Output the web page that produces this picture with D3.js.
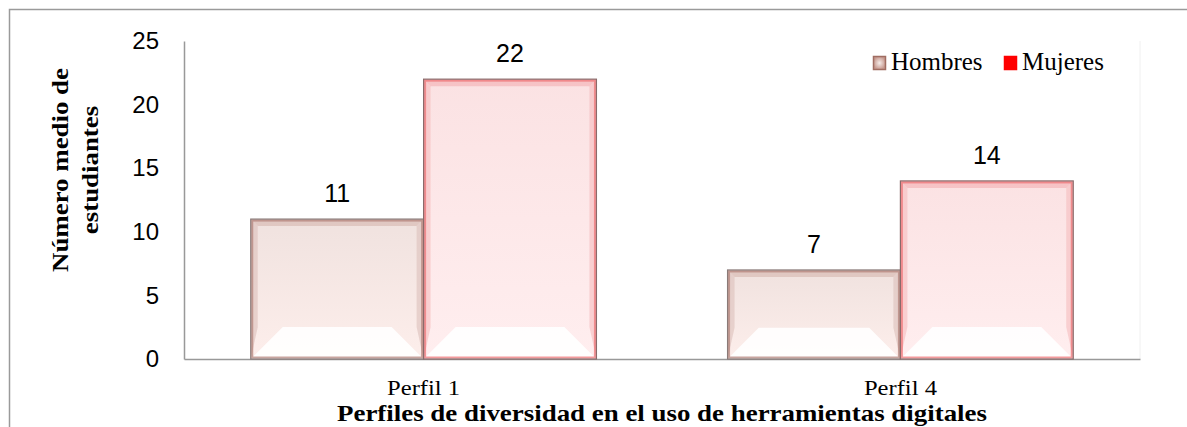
<!DOCTYPE html>
<html>
<head>
<meta charset="utf-8">
<script src="https://cdn.jsdelivr.net/npm/d3@7"></script>
<style>
  body { margin: 0; background: #fff; }
  svg { display: block; }
</style>
</head>
<body>
<div id="chart"></div>
<script>
const categories = ["Perfil 1", "Perfil 4"];
const seriesNames = ["Hombres", "Mujeres"];
const hombres = [11, 7];
const mujeres = [22, 14];
const yTicks = [0, 5, 10, 15, 20, 25];

const width = 1187, height = 427;
const margin = { left: 184, right: 1187 - 1140, top: 41, bottom: 427 - 359 };
const serif = "Liberation Serif, Times New Roman, serif";
const sans = "Liberation Sans, Arial, sans-serif";

const svg = d3.select("#chart").append("svg")
    .attr("width", width)
    .attr("height", height);

// outer frame
svg.append("path")
    .attr("d", "M9.5,427 V9.5 H1187")
    .attr("fill", "none")
    .attr("stroke", "#9a9a9a")
    .attr("stroke-width", 1.5);

const x = d3.scaleBand()
    .domain(categories)
    .range([margin.left, width - margin.right])
    .paddingInner(0.275)
    .paddingOuter(0.14);

const xs = d3.scaleBand()
    .domain(seriesNames)
    .range([0, x.bandwidth()]);

const y = d3.scaleLinear()
    .domain([0, 25])
    .range([height - margin.bottom, margin.top]);

const defs = svg.append("defs");
const styles = {
    Hombres: { base: "#f0e2df", edge: "#b07f76", dark: "#dcc0ba", line: "#8a7a78" },
    Mujeres: { base: "#fbe2e3", edge: "#ee6f72", dark: "#f5bcbe", line: "#8a6a6a" }
};
seriesNames.forEach(s => {
    const g = defs.append("linearGradient").attr("id", "g-" + s)
        .attr("x1", 0).attr("y1", 0).attr("x2", 0).attr("y2", 1);
    g.append("stop").attr("offset", 0).attr("stop-color", styles[s].base);
    g.append("stop").attr("offset", 1).attr("stop-color", d3.color(styles[s].base).brighter(0.15));
});
const lg = defs.append("radialGradient").attr("id", "legend-h");
lg.append("stop").attr("offset", 0).attr("stop-color", "#f6ece9");
lg.append("stop").attr("offset", 1).attr("stop-color", "#c79a90");

// faint right edge of plot area
svg.append("line")
    .attr("x1", width - margin.right).attr("x2", width - margin.right)
    .attr("y1", margin.top).attr("y2", y(0))
    .attr("stroke", "#f0f0f0");

// y axis
const yAxis = svg.append("g")
    .attr("transform", `translate(${margin.left},0)`)
    .call(d3.axisLeft(y).tickValues(yTicks).tickSize(0).tickPadding(25));
yAxis.select(".domain").attr("stroke", "#999").attr("stroke-width", 1.5);
yAxis.selectAll("text")
    .attr("font-family", sans)
    .attr("font-size", 24)
    .attr("fill", "#000");

// x axis
const xAxis = svg.append("g")
    .attr("transform", `translate(0,${y(0)})`)
    .call(d3.axisBottom(x).tickSize(0).tickPadding(0));
xAxis.select(".domain").attr("stroke", "#999").attr("stroke-width", 1.5);
xAxis.selectAll(".tick text")
    .attr("dy", null)
    .attr("y", 0)
    .attr("transform", "translate(0,36) scale(1.2,1)")
    .attr("font-family", serif)
    .attr("font-size", 20.5)
    .attr("fill", "#000");

const rows = [];
categories.forEach((c, i) => {
    rows.push({ cat: c, s: "Hombres", v: hombres[i] });
    rows.push({ cat: c, s: "Mujeres", v: mujeres[i] });
});

const bars = svg.append("g").selectAll("g")
    .data(rows)
    .join("g")
    .attr("transform", d => `translate(${x(d.cat) + xs(d.s)},${y(d.v)})`);

bars.each(function(d) {
    const g = d3.select(this);
    const w = xs.bandwidth(), h = y(0) - y(d.v);
    const st = styles[d.s];
    const b = 7, bb = Math.min(32, h * 0.35);
    g.append("rect").attr("width", w).attr("height", h)
        .attr("fill", `url(#g-${d.s})`);
    // top bevel
    g.append("path").attr("d", `M0,0 H${w} L${w - b},${b} H${b} Z`)
        .attr("fill", st.dark).attr("opacity", 0.8);
    // side bevels
    g.append("path").attr("d", `M0,0 L${b},${b} V${h - bb} L0,${h} Z`)
        .attr("fill", st.dark).attr("opacity", 0.6);
    g.append("path").attr("d", `M${w},0 L${w - b},${b} V${h - bb} L${w},${h} Z`)
        .attr("fill", st.dark).attr("opacity", 0.6);
    // bottom highlight
    g.append("path").attr("d", `M0,${h} L${bb},${h - bb} H${w - bb} L${w},${h} Z`)
        .attr("fill", "#ffffff").attr("opacity", 0.9);
    // coloured inner edge
    g.append("rect").attr("x", 1.5).attr("y", 1.5)
        .attr("width", w - 3).attr("height", h - 3)
        .attr("fill", "none").attr("stroke", st.edge).attr("stroke-width", 2).attr("opacity", 0.7);
    g.append("rect").attr("width", w).attr("height", h)
        .attr("fill", "none").attr("stroke", st.line).attr("stroke-width", 1.2);
});

// value labels
svg.append("g").selectAll("text")
    .data(rows)
    .join("text")
    .attr("x", d => x(d.cat) + xs(d.s) + xs.bandwidth() / 2)
    .attr("y", d => y(d.v) - 17)
    .attr("text-anchor", "middle")
    .attr("font-family", sans)
    .attr("font-size", 25)
    .text(d => d.v);

// y title
const yt = svg.append("text")
    .attr("transform", "translate(68,170) rotate(-90) scale(1.12,1)")
    .attr("text-anchor", "middle")
    .attr("font-family", serif)
    .attr("font-weight", "bold")
    .attr("font-size", 24)
    .attr("fill", "#000");
yt.append("tspan").attr("x", 0).attr("dy", 0).text("Número medio de");
yt.append("tspan").attr("x", 0).attr("dy", 30).text("estudiantes");

// x title
svg.append("text")
    .attr("transform", "translate(662,421) scale(1.15,1)")
    .attr("text-anchor", "middle")
    .attr("font-family", serif)
    .attr("font-weight", "bold")
    .attr("font-size", 23.4)
    .attr("fill", "#000")
    .text("Perfiles de diversidad en el uso de herramientas digitales");

// legend
const legendX = [873, 1004];
const leg = svg.append("g").selectAll("g")
    .data(seriesNames)
    .join("g")
    .attr("transform", (d, i) => `translate(${legendX[i]},56)`);
leg.append("rect")
    .attr("x", 0.5).attr("y", 0.5)
    .attr("width", 12).attr("height", 13)
    .attr("fill", d => d === "Mujeres" ? "#ff0000" : "url(#legend-h)")
    .attr("stroke", d => d === "Mujeres" ? "#ff0000" : "#a06d62")
    .attr("stroke-width", 1.5);
leg.append("text")
    .attr("transform", "translate(18,13.5) scale(1.02,1)")
    .attr("font-family", serif)
    .attr("font-size", 24.5)
    .attr("fill", "#000")
    .text(d => d);
</script>
</body>
</html>
